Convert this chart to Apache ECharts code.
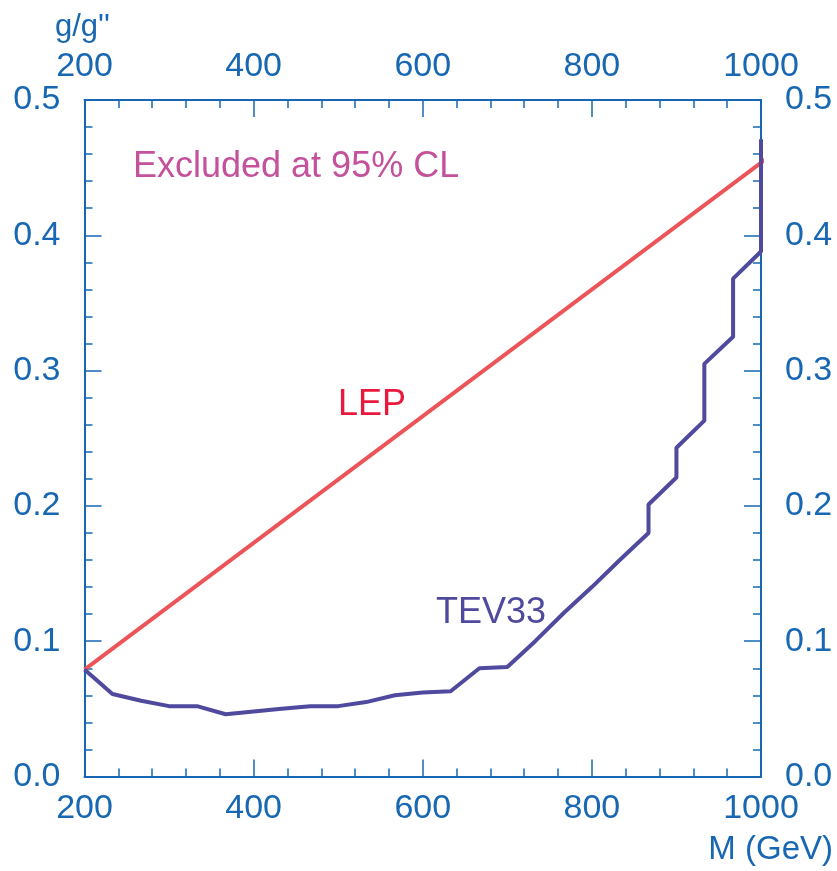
<!DOCTYPE html>
<html>
<head>
<meta charset="utf-8">
<script src="https://cdn.jsdelivr.net/npm/echarts@6/dist/echarts.min.js"></script>
<style>
  html, body { margin: 0; padding: 0; background: #ffffff; }
  #chart { width: 837px; height: 871px; }
</style>
</head>
<body>
<div id="chart"></div>
<script>
// Mass (GeV) and coupling ratio g/g'' values
const lepMass = [200, 1005];
const lepCoupling = [0.079, 0.456];

const tevMass = [200, 233, 267, 300, 333, 367, 400, 433, 467, 500, 533, 567, 600, 633,
                 667, 700, 733, 767, 800, 833, 867, 867, 900, 900, 933, 933, 967, 967, 1000, 1000];
const tevCoupling = [0.079, 0.061, 0.056, 0.052, 0.052, 0.046, 0.048, 0.050, 0.052, 0.052, 0.055, 0.060, 0.062, 0.063,
                     0.080, 0.081, 0.100, 0.121, 0.140, 0.160, 0.180, 0.201, 0.221, 0.243, 0.263, 0.305, 0.325, 0.368, 0.388, 0.471];

const xTicks = [200, 400, 600, 800, 1000];
const yTicks = [0.0, 0.1, 0.2, 0.3, 0.4, 0.5];

const AXIS = '#1767b2';
const FONT = '"Liberation Sans", Arial, sans-serif';

const chart = echarts.init(document.getElementById('chart'), null, { renderer: 'canvas' });

function pairs(xs, ys) { return xs.map((x, i) => [x, ys[i]]); }

function xAxisDef(position, margin) {
  return {
    type: 'value', position: position, min: xTicks[0], max: xTicks[xTicks.length - 1], interval: 200,
    axisLine: { show: true, onZero: false, lineStyle: { color: AXIS, width: 2 } },
    axisTick: { show: true, inside: true, length: 17, lineStyle: { color: AXIS, width: 1.5 } },
    minorTick: { show: true, splitNumber: 5, length: 8, lineStyle: { color: AXIS, width: 1.5 } },
    splitLine: { show: false },
    axisLabel: { color: AXIS, fontSize: 34, fontFamily: FONT, margin: margin,
                 formatter: v => String(v) }
  };
}
function yAxisDef(position) {
  return {
    type: 'value', position: position, min: yTicks[0], max: yTicks[yTicks.length - 1], interval: 0.1,
    axisLine: { show: true, onZero: false, lineStyle: { color: AXIS, width: 2 } },
    axisTick: { show: true, inside: true, length: 17, lineStyle: { color: AXIS, width: 1.5 } },
    minorTick: { show: true, splitNumber: 5, length: 8, lineStyle: { color: AXIS, width: 1.5 } },
    splitLine: { show: false },
    axisLabel: { color: AXIS, fontSize: 34, fontFamily: FONT, margin: 24,
                 formatter: v => v.toFixed(1) }
  };
}

chart.setOption({
  animation: false,
  backgroundColor: '#ffffff',
  grid: { left: 84.5, right: 76, top: 100, bottom: 94.5, containLabel: false },
  xAxis: [xAxisDef('bottom', 15), xAxisDef('top', 16)],
  yAxis: [yAxisDef('left'), yAxisDef('right')],
  series: [
    {
      name: 'LEP', type: 'line', xAxisIndex: 0, yAxisIndex: 0,
      data: pairs(lepMass, lepCoupling), showSymbol: false, clip: false,
      lineStyle: { color: '#ec5558', width: 4 }, z: 3
    },
    {
      name: 'TEV33', type: 'line', xAxisIndex: 0, yAxisIndex: 0,
      data: pairs(tevMass, tevCoupling), showSymbol: false, clip: false,
      lineStyle: { color: '#4f4a9e', width: 4 }, z: 4
    }
  ],
  graphic: [
    { type: 'text', left: 55, top: 12, style: { text: 'g/g\'\'', fill: AXIS, font: '31px ' + FONT } },
    { type: 'text', right: 4, top: 833, style: { text: 'M (GeV)', fill: AXIS, font: '33px ' + FONT } },
    { type: 'text', left: 133, top: 149, style: { text: 'Excluded at 95% CL', fill: '#c4519b', font: '36px ' + FONT } },
    { type: 'text', left: 338, top: 387, style: { text: 'LEP', fill: '#e8193c', font: '36px ' + FONT } },
    { type: 'text', left: 436, top: 595, style: { text: 'TEV33', fill: '#4f4a9e', font: '36px ' + FONT } }
  ]
});
</script>
</body>
</html>
